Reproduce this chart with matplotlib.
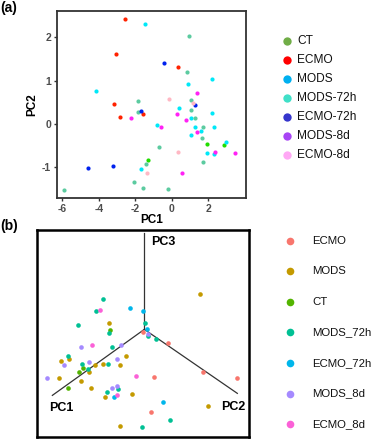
import matplotlib
matplotlib.use("Agg")
import matplotlib.pyplot as plt
from matplotlib.lines import Line2D

plt.rcParams['font.family'] = ['Liberation Sans', 'DejaVu Sans']

# ---------------- Panel (a) data: 2D PCA ----------------
groups_a = ["CT", "ECMO", "MODS", "MODS-72h", "ECMO-72h", "MODS-8d", "ECMO-8d"]
legend_colors_a = ["#70AD47", "#FF0000", "#00B0F0", "#40E0C8", "#3535CC", "#A845F5", "#FFA8F5"]
point_colors_a = {"CT": "#22DD00", "ECMO": "#FF2200", "MODS": "#00E8F8", "MODS-72h": "#5CCBA0",
                  "ECMO-72h": "#0022EE", "MODS-8d": "#FF22F5", "ECMO-8d": "#FFB8C4"}

ct_pc1 = [1.91, 2.84, -1.33]
ct_pc2 = [-0.45, -0.48, -0.83]
ecmo_pc1 = [-2.58, -3.07, 0.36, -3.15, -2.82, -1.58]
ecmo_pc2 = [2.415, 1.62, 1.315, 0.454, 0.17, 0.24]
mods_pc1 = [-1.45, -4.16, 0.89, 2.20, 0.38, 1.04, -0.82, 1.24, 1.58, 1.04, 2.29, 2.98, 1.91, 2.29, -1.67, 2.20]
mods_pc2 = [2.30, 0.77, 0.93, 1.05, 0.36, 0.15, -0.02, -0.08, -0.15, -0.25, -0.08, -0.42, -0.67, -0.69, -1.03, 0.25]
mods72_pc1 = [0.96, 0.85, -1.84, 1.05, 1.04, 1.24, -1.84, 1.69, 1.65, -0.73, 1.69, -1.40, -2.05, -5.89, -1.58, -0.20]
mods72_pc2 = [2.04, 1.21, 0.53, 0.56, 0.33, 0.14, 0.28, -0.08, -0.32, -0.52, -0.88, -0.92, -1.33, -1.53, -1.48, -1.51]
ecmo72_pc1 = [-0.44, -1.69, 1.27, -4.58, -3.25]
ecmo72_pc2 = [1.41, 0.31, 0.45, -1.02, -0.98]
mods8_pc1 = [1.36, 0.27, -2.25, -0.62, 0.80, 1.40, 2.35, 3.47, 0.53]
mods8_pc2 = [0.71, 0.24, 0.13, -0.07, 0.10, -0.18, -0.65, -0.68, -1.12]
ecmo8_pc1 = [-0.16, 1.18, 0.35, -1.38]
ecmo8_pc2 = [0.58, 0.48, -0.65, -1.14]

series_a = {
    "CT": (ct_pc1, ct_pc2), "ECMO": (ecmo_pc1, ecmo_pc2), "MODS": (mods_pc1, mods_pc2),
    "MODS-72h": (mods72_pc1, mods72_pc2), "ECMO-72h": (ecmo72_pc1, ecmo72_pc2),
    "MODS-8d": (mods8_pc1, mods8_pc2), "ECMO-8d": (ecmo8_pc1, ecmo8_pc2),
}
xticks_a = [-6, -4, -2, 0, 2]
yticks_a = [-1, 0, 1, 2]

# ---------------- Panel (b) data: projected 3D PCA ----------------
groups_b = ["ECMO", "MODS", "CT", "MODS_72h", "ECMO_72h", "MODS_8d", "ECMO_8d"]
colors_b = ["#F8766D", "#C49A00", "#53B400", "#00C094", "#00B6EB", "#A58AFF", "#FB61D7"]

b_ecmo_x = [-0.5, 7.2, 17.6, 27.7, 2.8, 2.0]
b_ecmo_y = [-0.8, -4.2, -12.9, -14.7, -14.3, -24.7]
b_mods_x = [16.7, -10.5, -24.9, -22.6, -5.5, -7.3, -12.3, -16.5, -14.8, -25.5, -19.1, -15.9, -11.8, -3.7, 19.0, -7.3]
b_mods_y = [10.6, 1.8, -9.4, -8.9, -8.1, -10.7, -10.4, -12.7, -10.7, -14.5, -15.4, -17.6, -20.4, -19.3, -23.0, -28.9]
b_ct_x = [-10.3, -18.3, -19.7, -22.8]
b_ct_y = [-0.1, -11.6, -12.8, -17.7]
b_mods72_x = [-12.4, -14.6, -19.8, -10.6, 0.1, 1.0, 3.4, -23.0, -18.8, -17.0, -11.0, -9.8, -7.8, -11.3, -0.7, 7.6]
b_mods72_y = [9.2, 5.4, 1.4, -1.2, 1.8, -2.1, -3.0, -7.9, -10.3, -11.8, -10.5, -5.2, -18.0, -18.9, -29.4, -27.1]
b_ecmo72_x = [-4.4, -0.3, 0.7, -9.0, 5.7]
b_ecmo72_y = [6.4, 5.6, 0.2, -20.3, -21.9]
b_mods8_x = [-19.1, -7.0, -8.1, -16.6, -24.1, -29.2, -9.7, -8.2, 1.1]
b_mods8_y = [-5.2, -4.7, -8.8, -9.9, -10.8, -14.7, -17.6, -17.0, -1.5]
b_ecmo8_x = [-13.3, -15.6, -2.6, -8.2]
b_ecmo8_y = [5.8, -4.8, -14.1, -19.7]

series_b = {
    "ECMO": (b_ecmo_x, b_ecmo_y), "MODS": (b_mods_x, b_mods_y), "CT": (b_ct_x, b_ct_y),
    "MODS_72h": (b_mods72_x, b_mods72_y), "ECMO_72h": (b_ecmo72_x, b_ecmo72_y),
    "MODS_8d": (b_mods8_x, b_mods8_y), "ECMO_8d": (b_ecmo8_x, b_ecmo8_y),
}
# projected axis directions (end points of the PC axes from the origin)
axis_names_b = ["PC1", "PC2", "PC3"]
axis_end_x = [-27.6, 27.9, 0.0]
axis_end_y = [-19.8, -19.2, 28.8]

W, H = 373, 440
fig = plt.figure(figsize=(W / 100, H / 100), dpi=100)

def fx(px):
    return px / W

def fy(py):
    return 1 - py / H

# ---------------- Panel (a) ----------------
axa = fig.add_axes([fx(56.7), fy(198.5), fx(246) - fx(56.7), fy(11) - fy(198.5)])
for g in groups_a:
    xs, ys = series_a[g]
    axa.scatter(xs, ys, s=9, color=point_colors_a[g], linewidths=0, zorder=3)
axa.set_xlim(-6.31, 4.06)
axa.set_ylim(-1.72, 2.61)
axa.set_xticks(xticks_a)
axa.set_yticks(yticks_a)
axa.set_xticklabels([str(t) for t in xticks_a])
axa.set_yticklabels([str(t) for t in yticks_a])
axa.tick_params(axis='both', length=2.5, width=1.0, color="#333333", labelsize=7.5, pad=1.5,
                labelcolor="#4D4D4D")
for lab in axa.get_xticklabels() + axa.get_yticklabels():
    lab.set_fontweight('bold')
for sp in axa.spines.values():
    sp.set_color("#333333")
    sp.set_linewidth(1.3)
axa.set_xlabel("PC1", fontsize=8.5, fontweight='bold', labelpad=0)
axa.set_ylabel("PC2", fontsize=8.5, fontweight='bold', labelpad=3)
fig.text(fx(0.5), fy(8), "(a)", fontsize=10, fontweight='bold', va='center', ha='left')

# legend (a)
leg_a_y0, leg_a_dy = 40.7, 19.0
for i, (g, c) in enumerate(zip(groups_a, legend_colors_a)):
    yy = leg_a_y0 + i * leg_a_dy
    fig.add_artist(Line2D([fx(287.3)], [fy(yy)], marker='o', markersize=6, color=c,
                          markeredgewidth=0, linestyle='none', transform=fig.transFigure))
    fig.text(fx(297.5), fy(yy), g, fontsize=8.6, va='center', ha='left', color="#111111")

# ---------------- Panel (b) ----------------
axb = fig.add_axes([fx(36.7), fy(436.7), fx(249) - fx(36.7), fy(229.7) - fy(436.7)])
for name, ex, ey in zip(axis_names_b, axis_end_x, axis_end_y):
    axb.plot([0, ex], [0, ey], color="#333333", linewidth=0.9, zorder=2)
for g, c in zip(groups_b, colors_b):
    xs, ys = series_b[g]
    axb.scatter(xs, ys, s=11, color=c, linewidths=0, zorder=3)
axb.set_xlim(-32.3, 31.4)
axb.set_ylim(-32.2, 29.9)
axb.set_xticks([])
axb.set_yticks([])
for sp in axb.spines.values():
    sp.set_color("black")
    sp.set_linewidth(1.8)
axb.text(2.0, 26.3, "PC3", fontsize=9, fontweight='bold', ha='left', va='center')
axb.text(-24.8, -23.7, "PC1", fontsize=9, fontweight='bold', ha='center', va='center')
axb.text(26.7, -23.2, "PC2", fontsize=9, fontweight='bold', ha='center', va='center')
fig.text(fx(0.5), fy(226), "(b)", fontsize=10, fontweight='bold', va='center', ha='left')

# legend (b)
leg_b_y0, leg_b_dy = 240.5, 30.6
for i, (g, c) in enumerate(zip(groups_b, colors_b)):
    yy = leg_b_y0 + i * leg_b_dy
    fig.add_artist(Line2D([fx(290)], [fy(yy)], marker='o', markersize=5.5, color=c,
                          markeredgewidth=0, linestyle='none', transform=fig.transFigure))
    fig.text(fx(312.5), fy(yy), g, fontsize=8.2, va='center', ha='left', color="#111111")

fig.savefig("out.png", dpi=100)
